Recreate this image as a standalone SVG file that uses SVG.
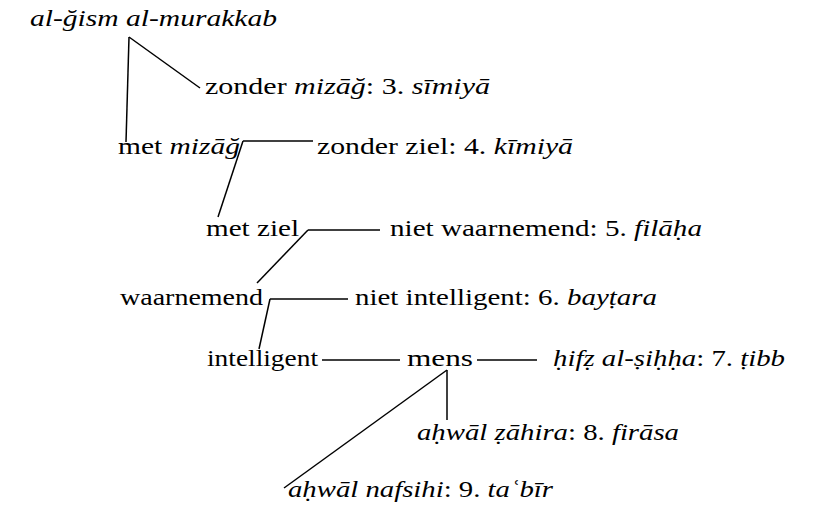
<svg xmlns="http://www.w3.org/2000/svg" width="821" height="516" viewBox="0 0 821 516">
<style>
text{font-family:"Liberation Serif","Times New Roman",serif;font-size:24px;fill:#000}
.i{font-style:italic}
#connectors line{stroke:#000;stroke-width:1.5;fill:none}
</style>
<rect width="821" height="516" fill="#fff"/>
<g id="connectors">
<line x1="129" y1="37" x2="126" y2="142"/>
<line x1="129" y1="37" x2="200" y2="88"/>
<line x1="243" y1="141" x2="313" y2="141"/>
<line x1="243" y1="141" x2="218" y2="217"/>
<line x1="308" y1="230" x2="380" y2="230"/>
<line x1="308" y1="230" x2="257" y2="283"/>
<line x1="270" y1="299" x2="348" y2="299"/>
<line x1="270" y1="299" x2="259" y2="349"/>
<line x1="322" y1="360" x2="400" y2="360"/>
<line x1="477" y1="360" x2="537" y2="360"/>
<line x1="447" y1="370" x2="447" y2="420"/>
<line x1="447" y1="370" x2="284" y2="488"/>
</g>
<g id="n1"><text x="30" y="26" class="i" textLength="247" lengthAdjust="spacingAndGlyphs">al-ğism al-murakkab</text></g>
<g id="n3"><text x="205" y="94" textLength="285" lengthAdjust="spacingAndGlyphs">zonder <tspan class="i">mizāğ</tspan>: 3. <tspan class="i">sīmiyā</tspan></text></g>
<g id="n_met_mizag"><text x="118" y="154" textLength="122" lengthAdjust="spacingAndGlyphs">met <tspan class="i">mizāğ</tspan></text></g>
<g id="n4"><text x="317" y="154" textLength="256" lengthAdjust="spacingAndGlyphs">zonder ziel: 4. <tspan class="i">kīmiyā</tspan></text></g>
<g id="n_met_ziel"><text x="206" y="236" textLength="93" lengthAdjust="spacingAndGlyphs">met ziel</text></g>
<g id="n5"><text x="390" y="236" textLength="312" lengthAdjust="spacingAndGlyphs">niet waarnemend: 5. <tspan class="i">filāḥa</tspan></text></g>
<g id="n_waarnemend"><text x="120" y="305" textLength="143" lengthAdjust="spacingAndGlyphs">waarnemend</text></g>
<g id="n6"><text x="355" y="305" textLength="302" lengthAdjust="spacingAndGlyphs">niet intelligent: 6. <tspan class="i">bayṭara</tspan></text></g>
<g id="n_intelligent"><text x="207" y="366" textLength="111" lengthAdjust="spacingAndGlyphs">intelligent</text></g>
<g id="n_mens"><text x="407" y="366" textLength="66" lengthAdjust="spacingAndGlyphs">mens</text></g>
<g id="n7"><text x="553" y="366" textLength="232" lengthAdjust="spacingAndGlyphs"><tspan class="i">ḥifẓ al-ṣiḥḥa</tspan>: 7. <tspan class="i">ṭibb</tspan></text></g>
<g id="n8"><text x="417" y="440" textLength="262" lengthAdjust="spacingAndGlyphs"><tspan class="i">aḥwāl ẓāhira</tspan>: 8. <tspan class="i">firāsa</tspan></text></g>
<g id="n9"><text x="288" y="497" textLength="265" lengthAdjust="spacingAndGlyphs"><tspan class="i">aḥwāl nafsihi</tspan>: 9. <tspan class="i">taʿbīr</tspan></text></g>
</svg>
